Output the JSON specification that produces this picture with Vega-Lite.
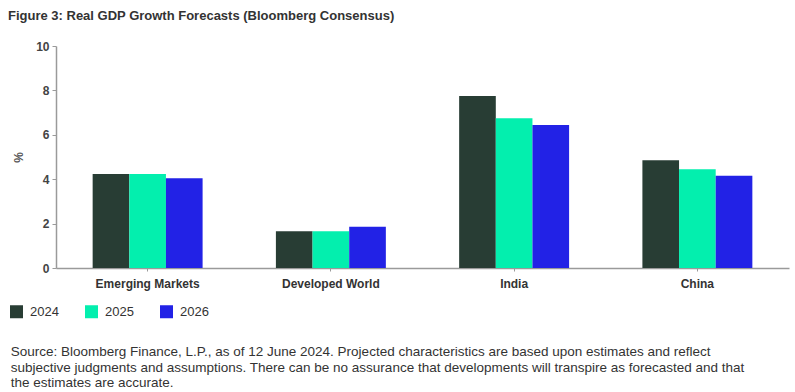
{
  "$schema": "https://vega.github.io/schema/vega-lite/v6.json",
  "background": "white",
  "padding": {"left": 8, "top": 10, "right": 2, "bottom": 2},
  "title": {
    "text": "Figure 3: Real GDP Growth Forecasts (Bloomberg Consensus)",
    "anchor": "start",
    "font": "Liberation Sans",
    "fontSize": 13,
    "fontWeight": "bold",
    "color": "#333333",
    "offset": 17,
    "dx": -2
  },
  "config": {
    "view": {"stroke": null},
    "font": "Liberation Sans",
    "concat": {"spacing": 0}
  },
  "vconcat": [
    {
      "width": 733,
      "height": 222,
      "title": {
        "text": [
          "Source: Bloomberg Finance, L.P., as of 12 June 2024. Projected characteristics are based upon estimates and reflect",
          "subjective judgments and assumptions. There can be no assurance that developments will transpire as forecasted and that",
          "the estimates are accurate."
        ],
        "orient": "bottom",
        "anchor": "start",
        "font": "Liberation Sans",
        "fontSize": 13.5,
        "fontWeight": "normal",
        "color": "#333333",
        "lineHeight": 15.5,
        "offset": 56,
        "dx": -2
      },
      "data": {
        "values": [
          {"region": "Emerging Markets", "year": "2024", "value": 4.23},
          {"region": "Emerging Markets", "year": "2025", "value": 4.23},
          {"region": "Emerging Markets", "year": "2026", "value": 4.04},
          {"region": "Developed World", "year": "2024", "value": 1.66},
          {"region": "Developed World", "year": "2025", "value": 1.66},
          {"region": "Developed World", "year": "2026", "value": 1.86},
          {"region": "India", "year": "2024", "value": 7.75},
          {"region": "India", "year": "2025", "value": 6.75},
          {"region": "India", "year": "2026", "value": 6.44},
          {"region": "China", "year": "2024", "value": 4.85},
          {"region": "China", "year": "2025", "value": 4.45},
          {"region": "China", "year": "2026", "value": 4.16}
        ]
      },
      "mark": {"type": "bar"},
      "encoding": {
        "x": {
          "field": "region",
          "type": "nominal",
          "sort": ["Emerging Markets", "Developed World", "India", "China"],
          "scale": {"paddingInner": 0.4, "paddingOuter": 0.2},
          "axis": {
            "title": null,
            "labelAngle": 0,
            "labelFontSize": 12,
            "labelFontWeight": "bold",
            "labelColor": "#333333",
            "labelPadding": 7,
            "domainColor": "#9a9a9a",
            "domainWidth": 1.5,
            "tickColor": "#9a9a9a",
            "tickSize": 3
          }
        },
        "xOffset": {
          "field": "year",
          "type": "nominal",
          "scale": {"paddingInner": 0, "paddingOuter": 0}
        },
        "y": {
          "field": "value",
          "type": "quantitative",
          "scale": {"domain": [0, 10], "nice": false},
          "axis": {
            "title": "%",
            "titleFontSize": 12,
            "titleFontWeight": "bold",
            "titleColor": "#555555",
            "titlePadding": 10,
            "values": [0, 2, 4, 6, 8, 10],
            "grid": false,
            "labelFontSize": 12,
            "labelFontWeight": "bold",
            "labelColor": "#444444",
            "labelPadding": 3,
            "domainColor": "#9a9a9a",
            "domainWidth": 1.5,
            "tickColor": "#9a9a9a",
            "tickSize": 4
          }
        },
        "color": {
          "field": "year",
          "type": "nominal",
          "scale": {
            "domain": ["2024", "2025", "2026"],
            "range": ["#283d34", "#03efae", "#2222e6"]
          },
          "legend": {
            "title": null,
            "orient": "none",
            "legendX": -46,
            "legendY": 259,
            "direction": "horizontal",
            "symbolType": "square",
            "symbolSize": 169,
            "symbolStrokeWidth": 0,
            "symbolOpacity": 1,
            "labelFontSize": 13,
            "labelColor": "#333333",
            "labelOffset": 7,
            "columnPadding": 26
          }
        }
      }
    }
  ]
}
